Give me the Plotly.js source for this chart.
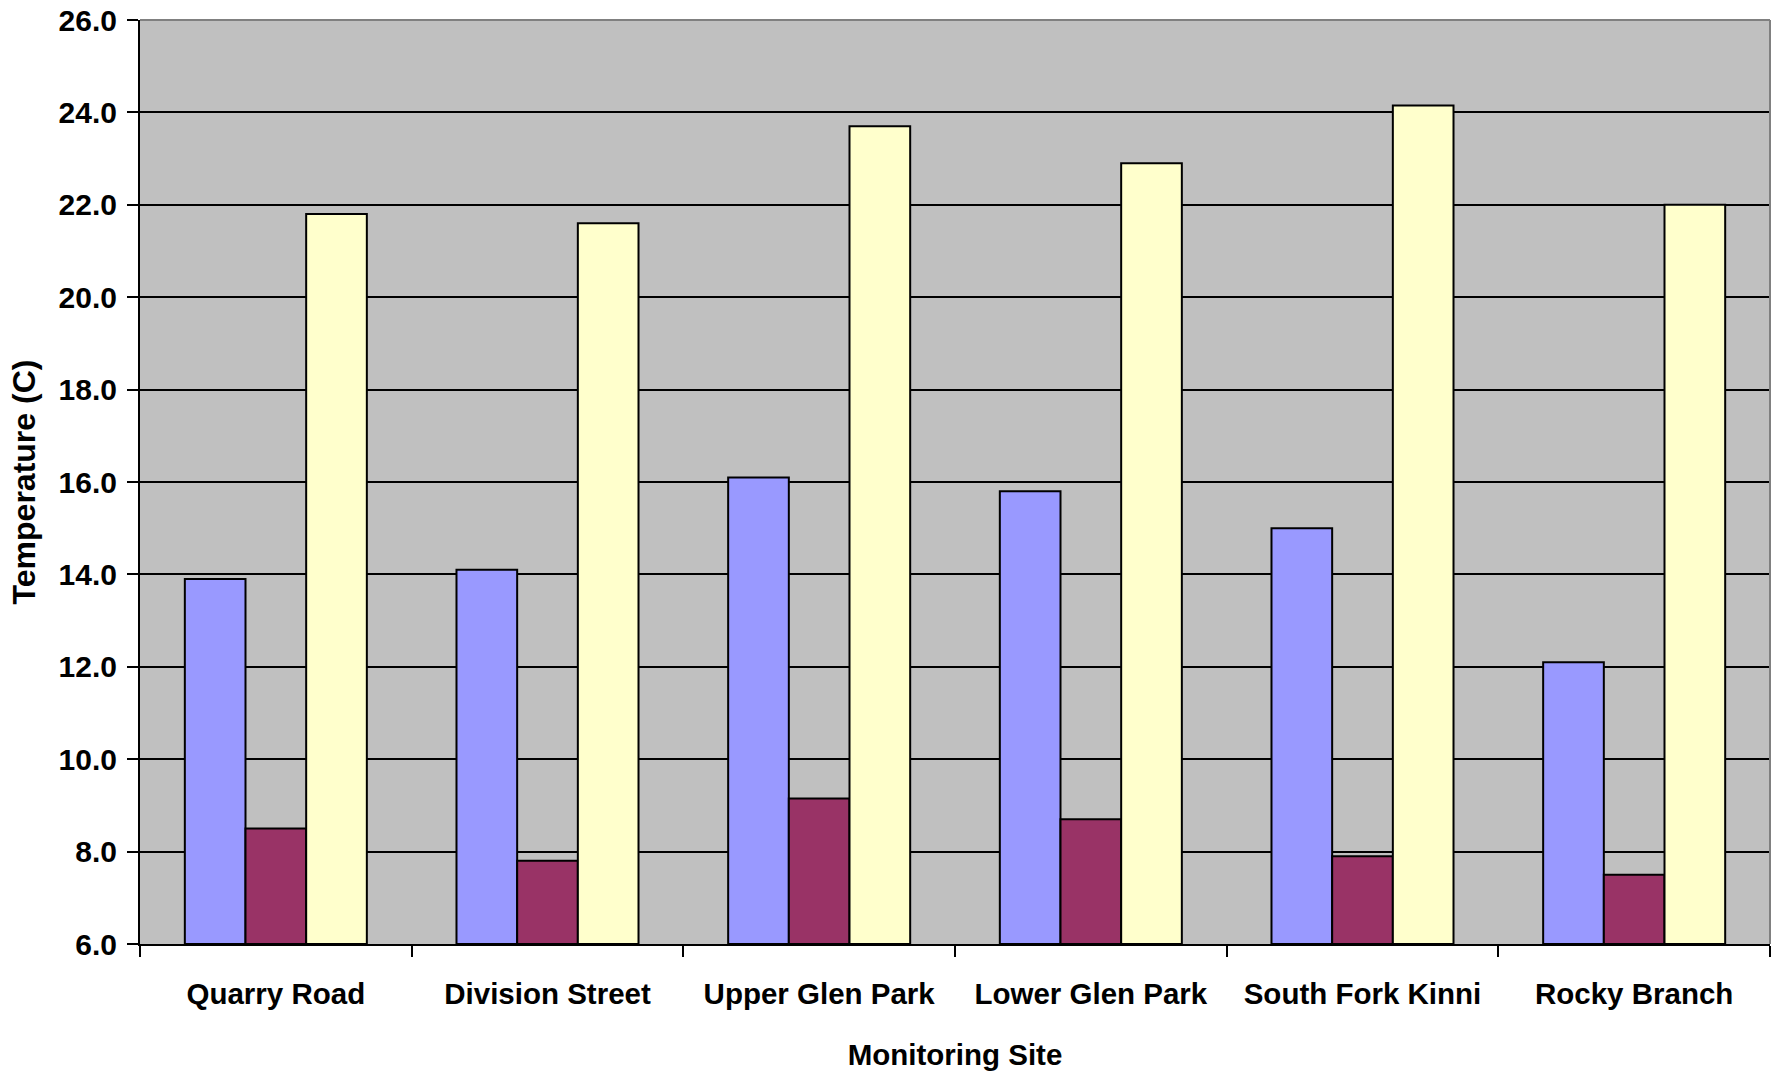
<!DOCTYPE html>
<html>
<head>
<meta charset="utf-8">
<script src="https://cdn.plot.ly/plotly-3.0.1.min.js"></script>
<style>
  html, body { margin: 0; padding: 0; background: #ffffff; }
  #chart { width: 1781px; height: 1074px; }
</style>
</head>
<body>
<div id="chart"></div>
<script>
// Monitoring sites along the x axis
const sites = ["Quarry Road", "Division Street", "Upper Glen Park", "Lower Glen Park", "South Fork Kinni", "Rocky Branch"];

// Water temperature per site (degrees C)
const meanTemp = [13.9, 14.1, 16.1, 15.8, 15.0, 12.1];
const minTemp  = [8.5, 7.8, 9.15, 8.7, 7.9, 7.5];
const maxTemp  = [21.8, 21.6, 23.7, 22.9, 24.15, 22.0];

// Y axis tick values and labels
const yTickVals = [6, 8, 10, 12, 14, 16, 18, 20, 22, 24, 26];
const yTickText = yTickVals.map(v => v.toFixed(1));

const family = "Liberation Sans, Arial, sans-serif";
const mkFont = size => ({ family: family, size: size, color: "#000000", weight: 700 });

function barTrace(name, values, color) {
  return {
    type: "bar",
    name: name,
    x: sites,
    y: values,
    base: 6,
    marker: { color: color, line: { color: "#000000", width: 2 } },
    hoverinfo: "x+y"
  };
}

// Bars rise from the 6.0 baseline, so plot heights relative to it
const shift = arr => arr.map(v => v - 6);

const data = [
  barTrace("Mean", shift(meanTemp), "#9999FF"),
  barTrace("Minimum", shift(minTemp), "#993366"),
  barTrace("Maximum", shift(maxTemp), "#FFFFCC")
];

const layout = {
  width: 1781,
  height: 1074,
  margin: { l: 140, r: 11, t: 20, b: 130 },
  paper_bgcolor: "#ffffff",
  plot_bgcolor: "#C0C0C0",
  barmode: "group",
  bargap: 0.33,
  bargroupgap: 0,
  showlegend: false,
  font: mkFont(30),
  xaxis: {
    type: "category",
    tickson: "boundaries",
    ticks: "outside",
    ticklen: 11,
    tickwidth: 2,
    tickcolor: "#000000",
    showline: true,
    linecolor: "#000000",
    linewidth: 2,
    showgrid: false,
    tickfont: mkFont(29.5),
    ticklabelstandoff: 23,
    title: { text: "Monitoring Site", font: mkFont(29.5), standoff: 35 }
  },
  yaxis: {
    range: [6, 26],
    tickvals: yTickVals,
    ticktext: yTickText,
    ticks: "outside",
    ticklen: 11,
    tickwidth: 2,
    tickcolor: "#000000",
    showline: true,
    linecolor: "#000000",
    linewidth: 2,
    showgrid: true,
    gridcolor: "#000000",
    gridwidth: 2,
    zeroline: false,
    tickfont: mkFont(30),
    ticklabelstandoff: 4,
    title: { text: "Temperature (C)", font: mkFont(32), standoff: 13 }
  },
  shapes: [
    // grey frame on the top and right of the plot area
    { type: "line", xref: "paper", yref: "paper", x0: 0, x1: 1, y0: 1, y1: 1,
      line: { color: "#808080", width: 2 }, layer: "above" },
    { type: "line", xref: "paper", yref: "paper", x0: 1, x1: 1, y0: 0, y1: 1,
      line: { color: "#808080", width: 2 }, layer: "above" }
  ]
};

Plotly.newPlot("chart", data, layout, { displayModeBar: false, staticPlot: true });
</script>
</body>
</html>
